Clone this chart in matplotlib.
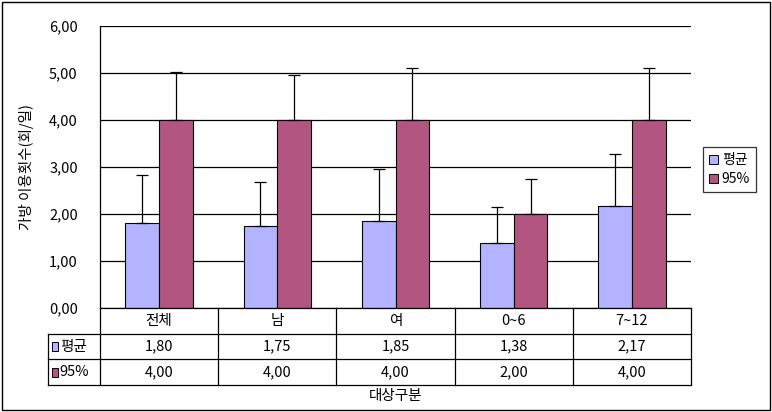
import matplotlib.pyplot as plt
import numpy as np
from matplotlib.patches import Rectangle, Patch

plt.rcParams['font.family'] = ['Noto Sans CJK KR', 'DejaVu Sans']

categories = ['전체', '남', '여', '0~6', '7~12']
mean_vals = [1.80, 1.75, 1.85, 1.38, 2.17]
p95_vals = [4.00, 4.00, 4.00, 2.00, 4.00]
mean_err = [1.04, 0.94, 1.10, 0.76, 1.10]
p95_err = [1.03, 0.95, 1.10, 0.75, 1.10]
series_names = ['평균', '95%']
y_ticks = [0, 1, 2, 3, 4, 5, 6]

c_mean = '#b3b3ff'
c_95 = '#b25581'

W, H = 772, 412
fig = plt.figure(figsize=(W / 100, H / 100), dpi=100)

def fbox(x0, y0, x1, y1):
    # pixel box -> figure fraction [left, bottom, width, height]
    return [x0 / W, 1 - y1 / H, (x1 - x0) / W, (y1 - y0) / H]

ax = fig.add_axes(fbox(100, 26, 691, 308))
x = np.arange(len(categories))
bw = 1 / 3.5
ax.bar(x - bw / 2, mean_vals, bw, color=c_mean, edgecolor='black', linewidth=0.8, zorder=3)
ax.bar(x + bw / 2, p95_vals, bw, color=c_95, edgecolor='black', linewidth=0.8, zorder=3)
ax.errorbar(x - bw / 2, mean_vals, yerr=[np.zeros(5), mean_err], fmt='none',
            ecolor='black', elinewidth=0.9, capsize=4, capthick=0.9, zorder=4)
ax.errorbar(x + bw / 2, p95_vals, yerr=[np.zeros(5), p95_err], fmt='none',
            ecolor='black', elinewidth=0.9, capsize=4, capthick=0.9, zorder=4)

ax.set_xlim(-0.5, 4.5)
ax.set_ylim(0, 6)
ax.set_yticks(y_ticks)
ax.set_yticklabels(['{:.2f}'.format(v).replace('.', ',') for v in y_ticks], fontsize=10.5)
ax.tick_params(axis='y', length=0, pad=16)
ax.set_xticks([])
for v in y_ticks:
    ax.axhline(v, color='black', linewidth=0.9, zorder=1)
for s in ['top', 'right', 'bottom']:
    ax.spines[s].set_visible(False)
ax.spines['left'].set_linewidth(0.9)
ax.set_ylabel('가방 이용횟수(회/일)', fontsize=10.5, labelpad=11)

# data table under the plot
tx = fig.add_axes(fbox(48, 308, 691, 385))
left = -0.5 - 52 / 118.2
tx.set_xlim(left, 4.5)
tx.set_ylim(0, 3)
tx.axis('off')
lk = dict(color='black', linewidth=0.9, clip_on=False)
tx.plot([-0.5, 4.5], [3, 3], **lk)
tx.plot([left, 4.5], [2, 2], **lk)
tx.plot([left, 4.5], [1, 1], **lk)
tx.plot([left, 4.5], [0, 0], **lk)
tx.plot([left, left], [0, 2], **lk)
for b in np.arange(-0.5, 5, 1):
    tx.plot([b, b], [0, 3], **lk)
for i, c in enumerate(categories):
    tx.text(i, 2.5, c, ha='center', va='center', fontsize=10.5)
    tx.text(i, 1.5, '{:.2f}'.format(mean_vals[i]).replace('.', ','), ha='center', va='center', fontsize=10.5)
    tx.text(i, 0.5, '{:.2f}'.format(p95_vals[i]).replace('.', ','), ha='center', va='center', fontsize=10.5)
for row, (name, col) in enumerate(zip(series_names, [c_mean, c_95])):
    yc = 1.5 - row
    tx.add_patch(Rectangle((left + 0.03, yc - 0.17), 0.055, 0.34, facecolor=col,
                           edgecolor='black', linewidth=0.7, clip_on=False))
    tx.text(left + 0.1, yc, name, ha='left', va='center', fontsize=10.5)

fig.text(0.5 * (100 + 691) / W, 1 - 396 / H, '대상구분', ha='center', va='center', fontsize=10.5)

handles = [Patch(facecolor=c_mean, edgecolor='black', linewidth=0.7),
           Patch(facecolor=c_95, edgecolor='black', linewidth=0.7)]
leg = fig.legend(handles, series_names, loc='upper left', bbox_to_anchor=(703 / W, 1 - 147 / H),
                 fontsize=10, frameon=True, fancybox=False, handlelength=0.6, handleheight=0.6,
                 handletextpad=0.3, borderpad=0.45, labelspacing=0.35, borderaxespad=0)
leg.get_frame().set_edgecolor('black')
leg.get_frame().set_linewidth(0.9)
leg._legend_box.align = 'left'

fig.patches.append(Rectangle((2 / W, 2 / H), 1 - 4 / W, 1 - 4 / H, transform=fig.transFigure,
                             fill=False, edgecolor='black', linewidth=1))

fig.savefig('out.png', dpi=100)
